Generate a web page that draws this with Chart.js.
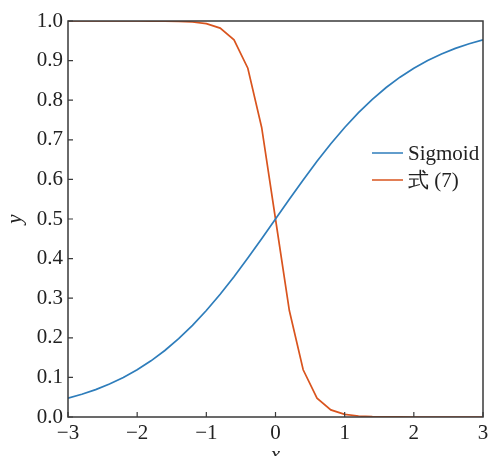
<!DOCTYPE html>
<html>
<head>
<meta charset="utf-8">
<script src="https://cdn.jsdelivr.net/npm/chart.js@4/dist/chart.umd.min.js"></script>
<style>
  html, body { margin: 0; padding: 0; background: #fff; }
  #wrap { width: 488px; height: 456px; position: relative; }
</style>
</head>
<body>
<div id="wrap"><canvas id="chart"></canvas></div>
<script>
  'use strict';

  // sample points, x from -3 to 3 every 0.2
  const xValues = [-3.0, -2.8, -2.6, -2.4, -2.2, -2.0, -1.8, -1.6, -1.4, -1.2, -1.0, -0.8, -0.6, -0.4, -0.2,
    0.0, 0.2, 0.4, 0.6, 0.8, 1.0, 1.2, 1.4, 1.6, 1.8, 2.0, 2.2, 2.4, 2.6, 2.8, 3.0];
  const sigmoidValues = [0.0474, 0.0573, 0.0691, 0.0832, 0.0998, 0.1192, 0.1419, 0.1680, 0.1978, 0.2315, 0.2689,
    0.3100, 0.3543, 0.4013, 0.4502, 0.5000, 0.5498, 0.5987, 0.6457, 0.6900, 0.7311, 0.7685, 0.8022, 0.8320,
    0.8581, 0.8808, 0.9002, 0.9168, 0.9309, 0.9427, 0.9526];
  const eq7Values = [1.0000, 1.0000, 1.0000, 1.0000, 1.0000, 1.0000, 0.9999, 0.9997, 0.9991, 0.9975, 0.9933,
    0.9820, 0.9526, 0.8808, 0.7311, 0.5000, 0.2689, 0.1192, 0.0474, 0.0180, 0.0067, 0.0025, 0.0009, 0.0003,
    0.0001, 0.0000, 0.0000, 0.0000, 0.0000, 0.0000, 0.0000];
  const seriesLabels = ['Sigmoid', '式 (7)'];
  const seriesColors = ['#2e7dbb', '#d9541e'];
  const xTicks = [-3, -2, -1, 0, 1, 2, 3];
  const yTicks = [0, 0.1, 0.2, 0.3, 0.4, 0.5, 0.6, 0.7, 0.8, 0.9, 1.0];

  const FONT = "'Liberation Serif', 'Times New Roman', serif";
  const AXIS = '#3a3a3a';

  function toPoints(ys) {
    return xValues.map((x, i) => ({ x, y: ys[i] }));
  }

  // frame, inward ticks and legend inside the plot
  const framePlugin = {
    id: 'frame',
    afterDatasetsDraw(chart) {
      const { ctx, chartArea: a, scales } = chart;
      ctx.save();
      ctx.strokeStyle = AXIS;
      ctx.lineWidth = 1.5;
      ctx.strokeRect(a.left, a.top, a.right - a.left, a.bottom - a.top);
      ctx.lineWidth = 1.2;
      ctx.beginPath();
      xTicks.forEach((v) => {
        const px = scales.x.getPixelForValue(v);
        ctx.moveTo(px, a.bottom);
        ctx.lineTo(px, a.bottom - 5);
      });
      yTicks.forEach((v) => {
        const py = scales.y.getPixelForValue(v);
        ctx.moveTo(a.left, py);
        ctx.lineTo(a.left + 5, py);
      });
      ctx.stroke();

      // legend
      ctx.font = '21px ' + FONT;
      ctx.textBaseline = 'middle';
      ctx.textAlign = 'left';
      chart.data.datasets.forEach((ds, i) => {
        const y = 153 + i * 27;
        ctx.strokeStyle = ds.borderColor;
        ctx.lineWidth = 1.5;
        ctx.beginPath();
        ctx.moveTo(372, y);
        ctx.lineTo(403, y);
        ctx.stroke();
        ctx.fillStyle = '#222';
        ctx.fillText(ds.label, 408, y + 1);
      });
      ctx.restore();
    }
  };

  new Chart(document.getElementById('chart'), {
    type: 'line',
    data: {
      datasets: [
        { label: seriesLabels[0], data: toPoints(sigmoidValues), borderColor: seriesColors[0], borderWidth: 1.7, pointRadius: 0, tension: 0, fill: false },
        { label: seriesLabels[1], data: toPoints(eq7Values), borderColor: seriesColors[1], borderWidth: 1.7, pointRadius: 0, tension: 0, fill: false }
      ]
    },
    options: {
      responsive: true,
      maintainAspectRatio: false,
      animation: false,
      layout: { padding: { top: 21, right: 5, left: 0, bottom: 0 } },
      plugins: { legend: { display: false }, tooltip: { enabled: false } },
      scales: {
        x: {
          type: 'linear',
          min: -3,
          max: 3,
          afterFit: (scale) => {
            scale.height = 39;
            scale.paddingRight = 0;
            scale.paddingLeft = 0;
          },
          afterBuildTicks: (scale) => { scale.ticks = xTicks.map((v) => ({ value: v })); },
          grid: { display: false, drawTicks: false },
          border: { display: false },
          ticks: {
            color: '#222',
            font: { family: FONT, size: 21 },
            padding: 4,
            maxRotation: 0,
            autoSkip: false,
            callback: (v) => String(v).replace('-', '\u2212')
          },
          title: {
            display: true,
            text: 'x',
            color: '#222',
            font: { family: FONT, size: 21, style: 'italic' },
            padding: { top: 0, bottom: -12 }
          }
        },
        y: {
          min: 0,
          max: 1,
          afterFit: (scale) => { scale.width = 68; },
          afterBuildTicks: (scale) => { scale.ticks = yTicks.map((v) => ({ value: v })); },
          grid: { display: false, drawTicks: false },
          border: { display: false },
          ticks: {
            color: '#222',
            font: { family: FONT, size: 21 },
            padding: 5,
            autoSkip: false,
            callback: (v) => Number(v).toFixed(1)
          },
          title: {
            display: true,
            text: 'y',
            color: '#222',
            font: { family: FONT, size: 21, style: 'italic' },
            padding: { top: 3, bottom: 0 }
          }
        }
      }
    },
    plugins: [framePlugin]
  });
</script>
</body>
</html>
